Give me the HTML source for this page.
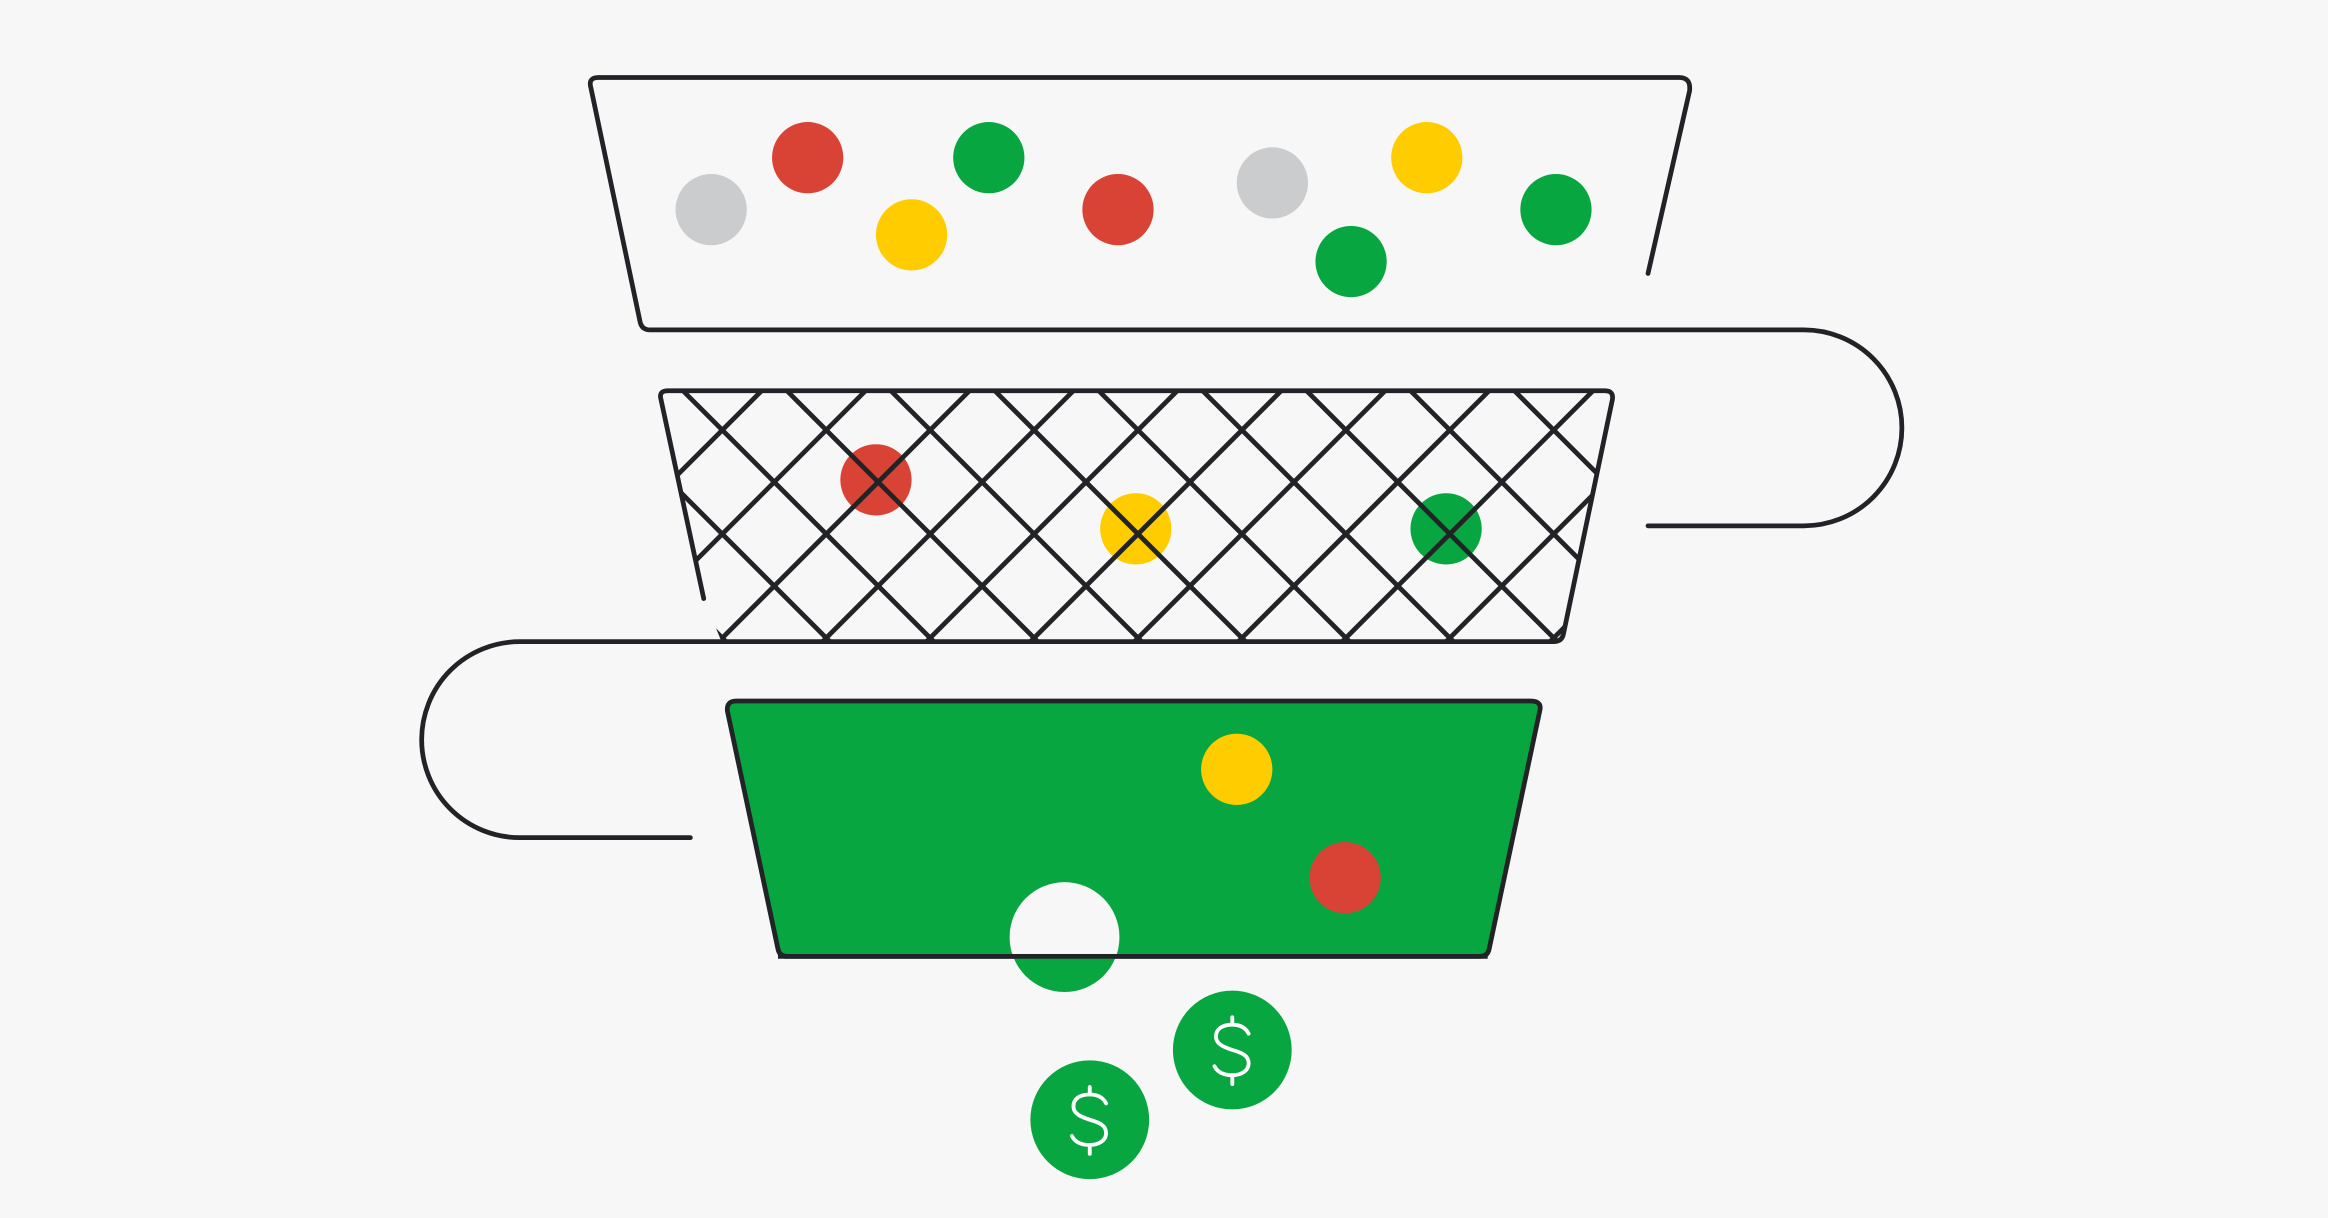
<!DOCTYPE html>
<html><head><meta charset="utf-8"><style>
html,body{margin:0;padding:0;background:#f7f7f7;}
svg{display:block;}
</style></head><body>
<svg width="2328" height="1218" viewBox="0 0 1568 820" xmlns="http://www.w3.org/2000/svg">
<rect width="1568" height="820" fill="#f7f7f7"/>
<g fill="none" stroke="#222326" stroke-width="3.2" stroke-linecap="round" stroke-linejoin="round">
<path d="M1110 184 L1138 61 Q1139 52 1131 52 L403 52 Q396 52 398 59 L431 216 Q432 222 438 222 L1215 222 A66 66 0 0 1 1215 354 L1110 354"/>
</g>
<g>
<circle cx="479" cy="141" r="24" fill="#cbcccd"/>
<circle cx="544" cy="106" r="24" fill="#d94335"/>
<circle cx="614" cy="158" r="24" fill="#ffcc00"/>
<circle cx="666" cy="106" r="24" fill="#08a640"/>
<circle cx="753" cy="141" r="24" fill="#d94335"/>
<circle cx="857" cy="123" r="24" fill="#cbcccd"/>
<circle cx="910" cy="176" r="24" fill="#08a640"/>
<circle cx="961" cy="106" r="24" fill="#ffcc00"/>
<circle cx="1048" cy="141" r="24" fill="#08a640"/>
<circle cx="590" cy="323" r="24" fill="#d94335"/>
<circle cx="765" cy="356" r="24" fill="#ffcc00"/>
<circle cx="974" cy="356" r="24" fill="#08a640"/>
</g>
<defs><clipPath id="tz"><polygon points="446,263 1086,263 1052,432 486,432 474,403"/></clipPath></defs>
<g clip-path="url(#tz)" stroke="#222326" stroke-width="3.2">
<line x1="320" y1="263" x2="489" y2="432"/>
<line x1="390" y1="263" x2="559" y2="432"/>
<line x1="460" y1="263" x2="629" y2="432"/>
<line x1="530" y1="263" x2="699" y2="432"/>
<line x1="600" y1="263" x2="769" y2="432"/>
<line x1="670" y1="263" x2="839" y2="432"/>
<line x1="740" y1="263" x2="909" y2="432"/>
<line x1="810" y1="263" x2="979" y2="432"/>
<line x1="880" y1="263" x2="1049" y2="432"/>
<line x1="950" y1="263" x2="1119" y2="432"/>
<line x1="1020" y1="263" x2="1189" y2="432"/>
<line x1="1090" y1="263" x2="1259" y2="432"/>
<line x1="443" y1="263" x2="274" y2="432"/>
<line x1="513" y1="263" x2="344" y2="432"/>
<line x1="583" y1="263" x2="414" y2="432"/>
<line x1="653" y1="263" x2="484" y2="432"/>
<line x1="723" y1="263" x2="554" y2="432"/>
<line x1="793" y1="263" x2="624" y2="432"/>
<line x1="863" y1="263" x2="694" y2="432"/>
<line x1="933" y1="263" x2="764" y2="432"/>
<line x1="1003" y1="263" x2="834" y2="432"/>
<line x1="1073" y1="263" x2="904" y2="432"/>
<line x1="1143" y1="263" x2="974" y2="432"/>
<line x1="1213" y1="263" x2="1044" y2="432"/>
</g>
<g fill="none" stroke="#222326" stroke-width="3.2" stroke-linecap="round" stroke-linejoin="round">
<path d="M474 403 L445 268 Q444 263 450 263 L1081 263 Q1087 263 1086 269 L1053 427 Q1052 432 1046 432 L350 432 A66 66 0 0 0 350 564 L465 564"/>
</g>
<path d="M496 472 L1031 472 Q1039 472 1037 479 L1003 639 Q1002 644 997 644 L530 644 Q525 644 524 639 L490 479 Q489 472 496 472 Z" fill="#08a640" stroke="#222326" stroke-width="3.2" stroke-linejoin="round"/>
<circle cx="833" cy="518" r="24" fill="#ffcc00"/>
<circle cx="906" cy="591" r="24" fill="#d94335"/>
<circle cx="717" cy="631" r="37" fill="#08a640"/>
<clipPath id="tp"><rect x="600" y="560" width="240" height="83"/></clipPath>
<circle cx="717" cy="631" r="37" fill="#f7f7f7" clip-path="url(#tp)"/>
<line x1="524" y1="644" x2="1002" y2="644" stroke="#222326" stroke-width="3.2"/>
<circle cx="830" cy="707" r="40" fill="#08a640"/>
<circle cx="734" cy="754" r="40" fill="#08a640"/>
<g fill="none" stroke="#fff" stroke-width="2.6" stroke-linecap="round">
<path d="M841 696 C839 692 835 690 830 690 C823 690 819 693 819 698 C819 703 824 705 830 707 C837 709 841 711 841 716 C841 721 836 724 830 724 C824 724 820 722 818 718 M830 685 L830 690 M830 724 L830 730"/>
<path d="M745 743 C743 739 739 737 734 737 C727 737 723 740 723 745 C723 750 728 752 734 754 C741 756 745 758 745 763 C745 768 740 771 734 771 C728 771 724 769 722 765 M734 732 L734 737 M734 771 L734 777"/>
</g>
<text x="0" y="0" font-family="Liberation Sans, sans-serif" font-size="1" fill="#f7f7f7">$ $</text>
</svg>
</body></html>
